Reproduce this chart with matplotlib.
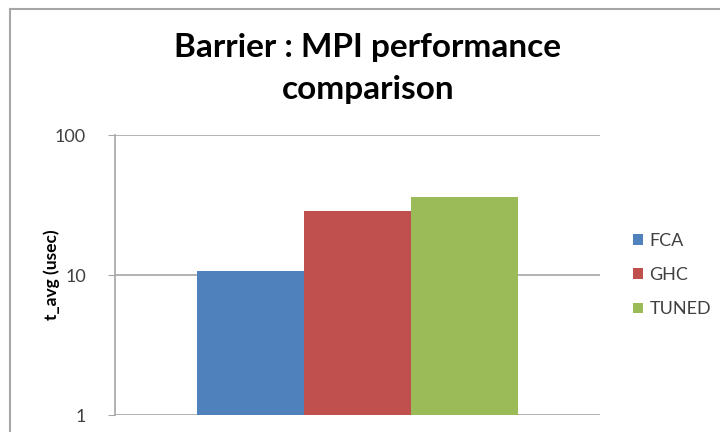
import matplotlib.pyplot as plt
from matplotlib.lines import Line2D

# measured t_avg per MPI implementation for Barrier
series = ["FCA", "GHC", "TUNED"]
t_avg = [10.7, 28.7, 36.2]
colors = ["#4F81BD", "#C0504D", "#9BBB59"]
yticks = [1, 10, 100]

plt.rcParams['font.family'] = ['Lato', 'DejaVu Sans']

fig = plt.figure(figsize=(7.2, 4.32), dpi=100)
W, H = 720, 432

# chart area frame (grey line on left and top edges)
fig.add_artist(Line2D([10 / W, 10 / W], [0, 1 - 9 / H], transform=fig.transFigure,
                      color="#a6a6a6", lw=1.5))
fig.add_artist(Line2D([10 / W, 1], [1 - 9 / H, 1 - 9 / H], transform=fig.transFigure,
                      color="#a6a6a6", lw=1.5))

ax = fig.add_axes([115 / W, 1 - 415 / H, 485 / W, 280 / H])

xs = [-1, 0, 1]
for x, v, c, name in zip(xs, t_avg, colors, series):
    ax.bar(x, v, width=1.0, color=c, label=name, bottom=0, zorder=3)

ax.set_yscale("log")
ax.set_ylim(1, 100)
ax.set_xlim(-2.27, 2.27)
ax.set_yticks(yticks)
ax.set_yticklabels([str(t) for t in yticks])
ax.minorticks_off()
ax.tick_params(axis="y", length=5, color="#a6a6a6", labelsize=13, labelcolor="#404040", pad=16)
ax.set_xticks([])
ax.grid(axis="y", color="#a6a6a6", lw=1.2, zorder=0)

for s in ["top", "right", "bottom"]:
    ax.spines[s].set_visible(False)
ax.spines["left"].set_color("#a6a6a6")
ax.spines["left"].set_linewidth(1.2)

ax.set_ylabel("t_avg (usec)", fontsize=12.5, fontweight="bold")
ax.yaxis.set_label_coords(-0.113, 0.5)

fig.text(368 / W, 1 - 47 / H, "Barrier : MPI performance", ha="center", va="center",
         fontsize=24, fontweight="bold")
fig.text(368 / W, 1 - 90 / H, "comparison", ha="center", va="center",
         fontsize=24, fontweight="bold")

fig.legend(loc="upper left", bbox_to_anchor=(626 / W, 1 - 226 / H), frameon=False,
           fontsize=13, handlelength=0.55, handleheight=0.55, handletextpad=0.35,
           labelspacing=1.0, borderaxespad=0, labelcolor="#404040")

fig.savefig("out.png", dpi=100)
